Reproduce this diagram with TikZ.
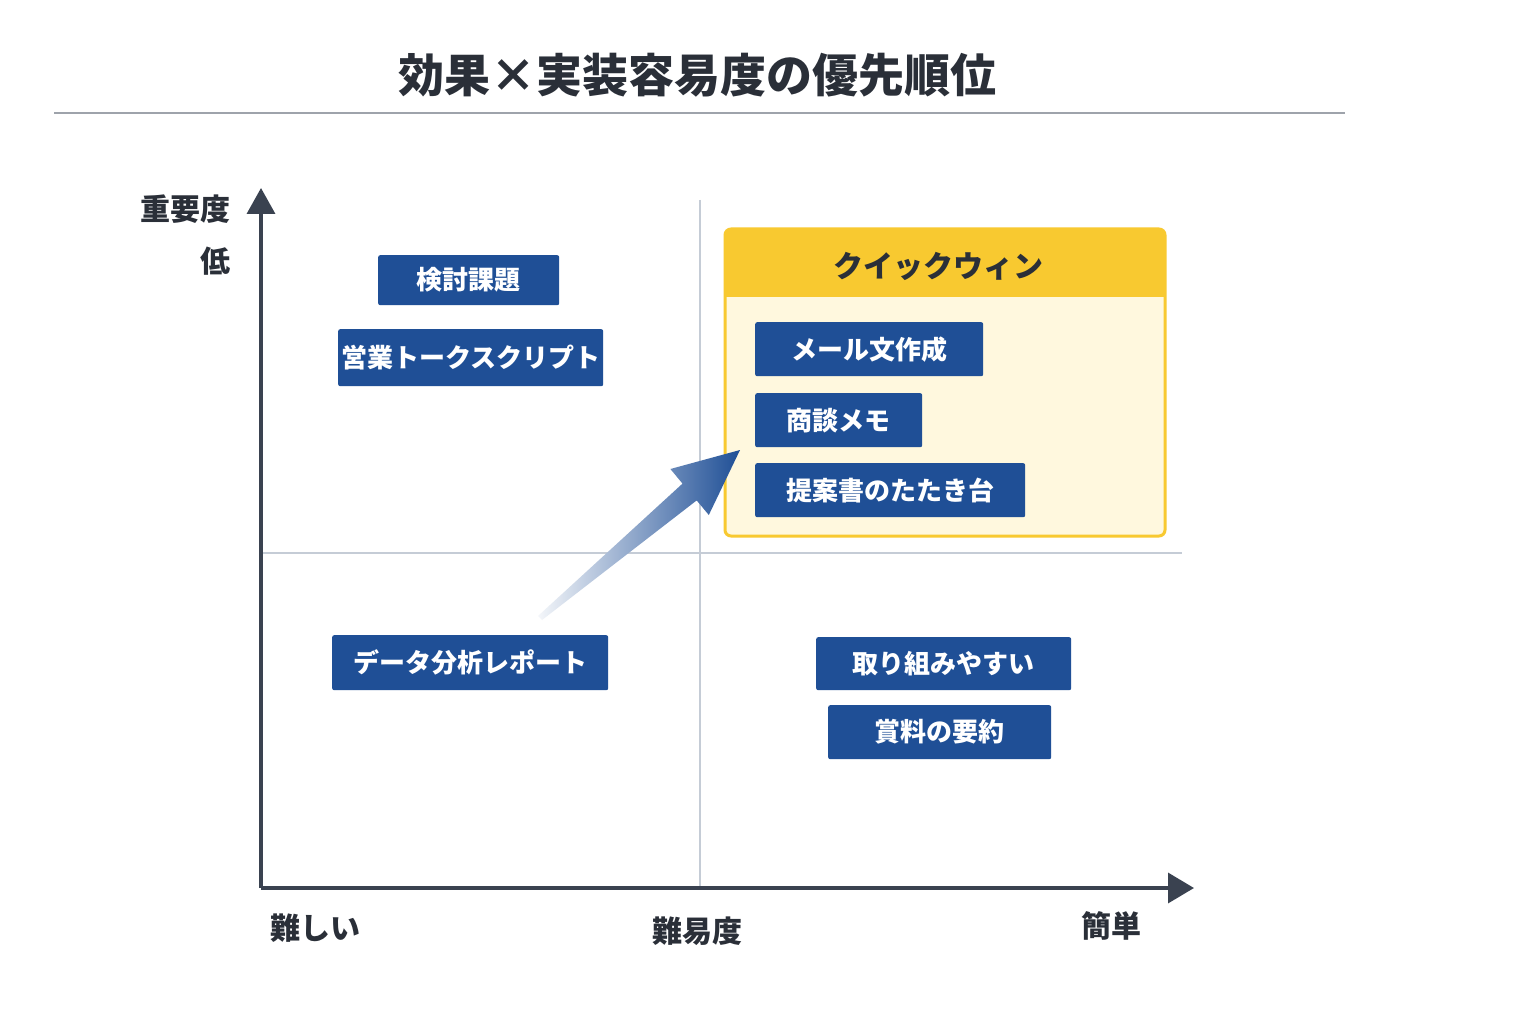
\documentclass[tikz,border=0pt]{standalone}
\usepackage{fontspec}
\setmainfont{Noto Sans CJK JP}
\usetikzlibrary{arrows.meta}
\definecolor{bluebox}{HTML}{1F4F96}
\definecolor{axiscol}{HTML}{3A4250}
\definecolor{gridcol}{HTML}{C5CCD6}
\definecolor{ytop}{HTML}{F8C930}
\definecolor{ybody}{HTML}{FFF8DE}
\definecolor{txt}{HTML}{2A2F38}
\tikzset{
 tag/.style={fill=bluebox,text=white,font=\fontsize{26}{28}\selectfont\bfseries,rounded corners=2pt,inner sep=0pt,anchor=north west},
 lab/.style={text=txt,font=\fontsize{30}{32}\selectfont\bfseries,inner sep=0pt},
}
\begin{document}
\begin{tikzpicture}[x=1pt,y=-1pt]
\useasboundingbox (0,0) rectangle (1536,1024);
\fill[white] (0,0) rectangle (1536,1024);
\node[lab,font=\fontsize{46}{48}\selectfont\bfseries] (title) at (697,75) {効果×実装容易度の優先順位};
\draw[gridcol!80!black,line width=1.2pt] (54,113) -- (1345,113);
% grid
\draw[gridcol,line width=1.5pt] (700,200) -- (700,888);
\draw[gridcol,line width=1.5pt] (263,553) -- (1182,553);
% quick win
\fill[ybody,rounded corners=6pt] (725,229) rectangle (1165,536);
\fill[ytop,rounded corners=6pt] (725,229) rectangle (1165,260);
\fill[ytop] (725,250) rectangle (1165,297);
\draw[ytop,line width=3pt,rounded corners=6pt] (725,229) rectangle (1165,536);
\node[lab] (qw) at (938,266) {クイックウィン};
% axes
\coordinate (o) at (261,888);
\coordinate (ytip) at (261,188);
\coordinate (xtip) at (1194,888);
\draw[axiscol,line width=3.5pt,-{Triangle[length=26pt,width=28pt]}] (o) -- (ytip);
\draw[axiscol,line width=3.5pt,-{Triangle[length=26pt,width=30pt]}] (o) -- (xtip);
\node[lab,anchor=east] (y1) at (231,209) {重要度};
\node[lab,anchor=east] (y2) at (231,261) {低};
\node[lab] (x1) at (315,928) {難しい};
\node[lab] (x2) at (697,931) {難易度};
\node[lab] (x3) at (1111,926) {簡単};
% tags
\node[tag,minimum width=181pt,minimum height=50pt] (a) at (378,255) {検討課題};
\node[tag,minimum width=265pt,minimum height=57pt] (b) at (338,329) {営業トークスクリプト};
\node[tag,minimum width=228pt,minimum height=54pt] (c) at (755,322) {メール文作成};
\node[tag,minimum width=167pt,minimum height=54pt] (d) at (755,393) {商談メモ};
\node[tag,minimum width=270pt,minimum height=54pt] (e) at (755,463) {提案書のたたき台};
\node[tag,minimum width=276pt,minimum height=55pt] (f) at (332,635) {データ分析レポート};
\node[tag,minimum width=255pt,minimum height=53pt] (g) at (816,637) {取り組みやすい};
\node[tag,minimum width=223pt,minimum height=54pt] (h) at (828,705) {賞料の要約};
% arrow
\shade[left color=bluebox!5,right color=bluebox] (538,616) -- (542,620) -- (696.7,500.4) -- (708.8,515) -- (740,450) -- (670.4,469) -- (682.5,483.6) -- cycle;
\end{tikzpicture}
\end{document}
